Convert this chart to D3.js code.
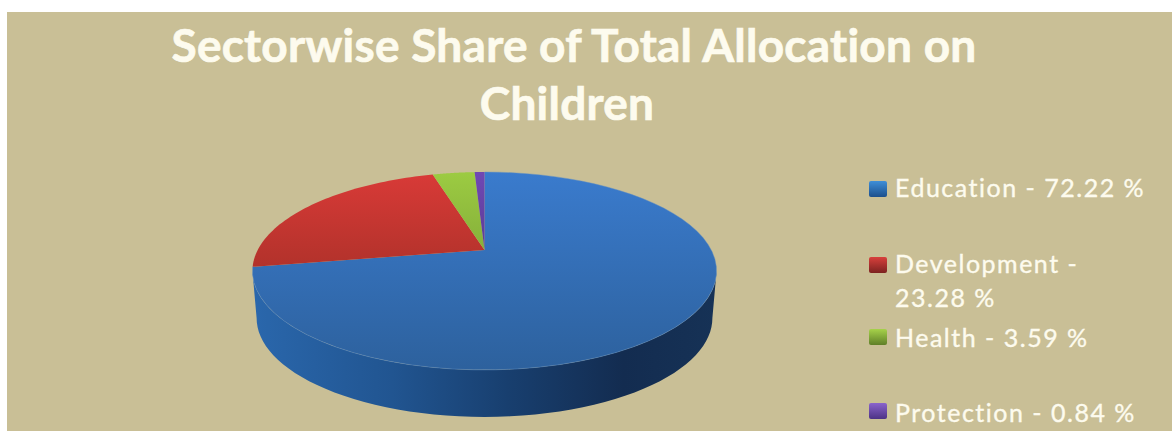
<!DOCTYPE html>
<html>
<head>
<meta charset="utf-8">
<script src="https://cdn.jsdelivr.net/npm/d3@7"></script>
<style>
html,body{margin:0;padding:0;background:#fff;overflow:hidden}
text{font-family:Lato,"Open Sans",sans-serif;fill:#fdfbee;font-variant-ligatures:none}
</style>
</head>
<body>
<svg id="chart" width="1172" height="431"></svg>
<script>
// Sector shares in percent
const sectors = ["Education", "Development", "Health", "Protection"];
const shares = [72.22, 23.28, 3.59, 0.84];
const legendLines = [["Education - 72.22 %"], ["Development -", "23.28 %"], ["Health - 3.59 %"], ["Protection - 0.84 %"]];
const titleLines = ["Sectorwise Share of Total Allocation on", "Children"];
const topColors = [["#3a7bcd", "#2d619d"], ["#d83a37", "#b2322b"], ["#9ccb42", "#86b03a"], ["#7048b4", "#5d3c96"]];
const keyColors = [["#3f8fd8", "#1c4f8c"], ["#d8403c", "#7c2220"], ["#a6d24a", "#5f7f28"], ["#8a64cc", "#4d3285"]];

const svg = d3.select("#chart");
const W = 1172, H = 431;

svg.append("rect").attr("x", 7).attr("y", 12).attr("width", W - 7).attr("height", H - 12).attr("fill", "#c9bf96");

const defs = svg.append("defs");
function vGrad(id, stops, x2, y2) {
  const g = defs.append("linearGradient").attr("id", id)
    .attr("x1", 0).attr("y1", 0).attr("x2", x2).attr("y2", y2);
  stops.forEach(([o, c]) => g.append("stop").attr("offset", o).attr("stop-color", c));
}
topColors.forEach((c, i) => vGrad("face" + i, [[0, c[0]], [1, c[1]]], 0, 1));
keyColors.forEach((c, i) => vGrad("key" + i, [[0, c[0]], [1, c[1]]], 0, 1));
vGrad("wall", [[0, "#2a67ac"], [0.3, "#215591"], [0.55, "#183f6f"], [0.8, "#132c50"], [1, "#163256"]], 1, 0);

// Tilted disc: a circle of unit radius seen in perspective
const cx = 484.5, radiusX = 226.8, tilt = -0.212, rise = 41.5, hubY = 250, depth = 47;
const project = (angle, r = 1) => {
  const u = Math.sin(angle) * r, v = -Math.cos(angle) * r;
  const d = 1 + tilt * v;
  return [cx + radiusX * u / d, (rise * v + hubY) / d];
};
const line = d3.line();
const sweep = (a0, a1) => d3.range(0, 61).map(i => a0 + (a1 - a0) * i / 60);

const arcs = d3.pie().sort(null).value(d => d)(shares);

// Side wall runs between the two widest points of the rim
const rightA = Math.PI - Math.acos(-tilt), leftA = Math.PI + Math.acos(-tilt);
const rim = sweep(rightA, leftA).map(a => project(a));
const lower = rim.map(([x, y]) => [cx + (x - cx) * 0.982, y + depth]).reverse();
svg.append("path").attr("d", line(rim.concat(lower)) + "Z").attr("fill", "url(#wall)");

// Top face slices
svg.append("g").selectAll("path").data(arcs).join("path")
  .attr("d", d => line([project(0, 0), ...sweep(d.startAngle, d.endAngle).map(a => project(a))]) + "Z")
  .attr("fill", (d, i) => `url(#face${i})`);

// Thin highlight along the rim of the blue slice
svg.append("path")
  .attr("d", line(sweep(arcs[0].startAngle, arcs[0].endAngle).map(a => project(a))))
  .attr("fill", "none").attr("stroke", "#5f8fc4").attr("stroke-width", 1).attr("opacity", 0.45);

// Title
svg.append("g").selectAll("text").data(titleLines).join("text")
  .attr("x", (d, i) => i ? 567 : 574).attr("y", (d, i) => 62 + i * 58)
  .attr("text-anchor", "middle").attr("font-size", 46).attr("font-weight", 700)
  .attr("letter-spacing", 0.25).attr("stroke", "#fdfbee").attr("stroke-width", 0.7)
  .text(d => d);

// Legend
const keyY = [181, 257, 329, 403];
const firstBaseline = [197, 273, 347, 422];
const legend = svg.append("g").selectAll("g").data(sectors).join("g");
legend.append("rect")
  .attr("x", 869).attr("y", (d, i) => keyY[i]).attr("width", 18).attr("height", 16).attr("rx", 2)
  .attr("fill", (d, i) => `url(#key${i})`);
legend.each(function (d, i) {
  d3.select(this).selectAll("text").data(legendLines[i]).join("text")
    .attr("x", 895).attr("y", (t, j) => firstBaseline[i] + j * 34)
    .attr("font-size", 25).attr("letter-spacing", 1.5)
    .attr("stroke", "#fdfbee").attr("stroke-width", 0.35)
    .text(t => t);
});
</script>
</body>
</html>
